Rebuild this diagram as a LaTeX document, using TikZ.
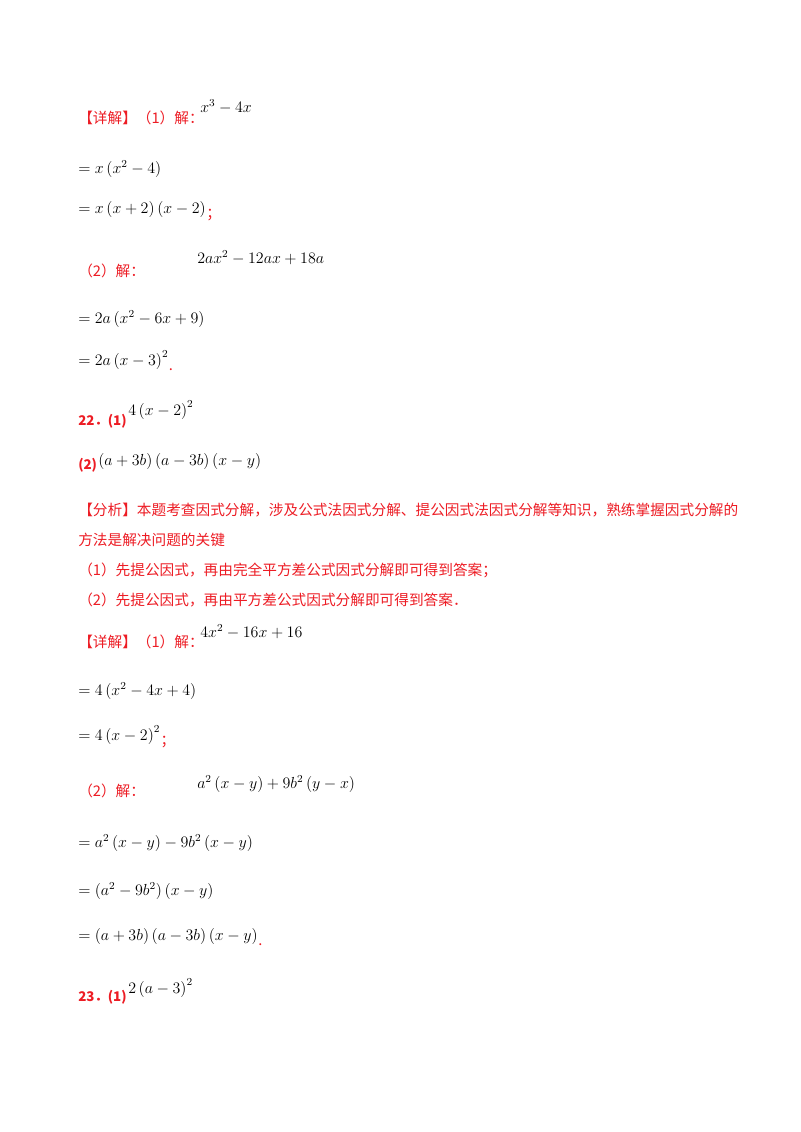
\documentclass[tikz,border=0pt]{standalone}
\usepackage{fontspec}
\setmainfont{Liberation Serif}
\newfontfamily\cjk{Noto Sans CJK SC}
\definecolor{rd}{RGB}{237,28,36}
\begin{document}
\begin{tikzpicture}[x=0.75pt,y=-0.75pt]
\useasboundingbox[fill=white] (0,0) rectangle (800,1132);
\tikzset{rt/.style={anchor=base west,inner sep=0pt,text=rd,font=\cjk\fontsize{11}{13}\selectfont},
 mt/.style={anchor=base west,inner sep=0pt,font=\fontsize{11.5}{13}\selectfont},
 bt/.style={anchor=base west,inner sep=0pt,text=rd,font=\cjk\bfseries\fontsize{10}{12}\selectfont}}
\node[rt] (a1) at (78,123) {【详解】（1）解：};
\node[mt] (m1) at (200,112) {$x^3-4x$};
\node[mt] (m2) at (78,173) {$=x\left(x^2-4\right)$};
\node[mt] (m3) at (78,213) {$=x\left(x+2\right)\left(x-2\right)$};
\node[rt] at (m3.base east) [anchor=base west,yshift=-4pt] {；};
\node[rt] (a2) at (78,276) {（2）解：};
\node[mt] (m4) at (197,263) {$2ax^2-12ax+18a$};
\node[mt] (m5) at (78,323) {$=2a\left(x^2-6x+9\right)$};
\node[mt] (m6) at (78,365) {$=2a\left(x-3\right)^2$};
\node[rt] at (m6.base east) [anchor=base west,yshift=-4pt] {.};
\node[bt] (q22) at (78,425) {22．(1)};
\node[mt] (m7) at (128,415) {$4\left(x-2\right)^2$};
\node[bt] (q22b) at (78,469) {(2)};
\node[mt] (m8) at (98,465) {$\left(a+3b\right)\left(a-3b\right)\left(x-y\right)$};
\node[rt] (f1) at (78,515) {【分析】本题考查因式分解，涉及公式法因式分解、提公因式法因式分解等知识，熟练掌握因式分解的};
\node[rt] (f2) at (78,545) {方法是解决问题的关键};
\node[rt] (f3) at (78,575) {（1）先提公因式，再由完全平方差公式因式分解即可得到答案；};
\node[rt] (f4) at (78,605) {（2）先提公因式，再由平方差公式因式分解即可得到答案．};
\node[rt] (a3) at (78,647) {【详解】（1）解：};
\node[mt] (m9) at (200,637) {$4x^2-16x+16$};
\node[mt] (m10) at (78,695) {$=4\left(x^2-4x+4\right)$};
\node[mt] (m11) at (78,740) {$=4\left(x-2\right)^2$};
\node[rt] at (m11.base east) [anchor=base west,yshift=-4pt] {；};
\node[rt] (a4) at (78,796) {（2）解：};
\node[mt] (m12) at (197,788) {$a^2\left(x-y\right)+9b^2\left(y-x\right)$};
\node[mt] (m13) at (78,847) {$=a^2\left(x-y\right)-9b^2\left(x-y\right)$};
\node[mt] (m14) at (78,895) {$=\left(a^2-9b^2\right)\left(x-y\right)$};
\node[mt] (m15) at (78,940) {$=\left(a+3b\right)\left(a-3b\right)\left(x-y\right)$};
\node[rt] at (m15.base east) [anchor=base west,yshift=-4pt] {.};
\node[bt] (q23) at (78,1001) {23．(1)};
\node[mt] (m16) at (128,993) {$2\left(a-3\right)^2$};
\end{tikzpicture}
\end{document}
